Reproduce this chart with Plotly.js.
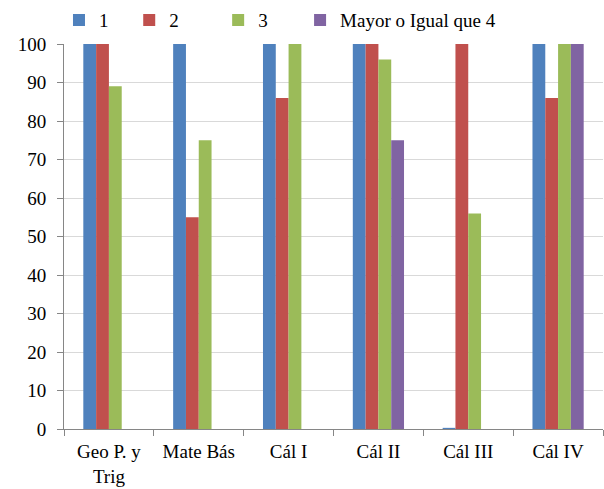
<!DOCTYPE html>
<html>
<head>
<meta charset="utf-8">
<script src="https://cdn.plot.ly/plotly-3.0.1.min.js"></script>
<style>html,body{margin:0;padding:0;background:#fff;}#chart{width:604px;height:489px;}</style>
</head>
<body>
<div id="chart"></div>
<script>
const categories = ["Geo P. y<br>Trig", "Mate Bás", "Cál I", "Cál II", "Cál III", "Cál IV"];
const seriesNames = ["1", "2", "3", "Mayor o Igual que 4"];
const s1 = [100, 100, 100, 100, 0.3, 100];
const s2 = [100, 55, 86, 100, 100, 86];
const s3 = [89, 75, 100, 96, 56, 100];
const s4 = [0, 0, 0, 75, 0, 100];
const yTicks = [0, 10, 20, 30, 40, 50, 60, 70, 80, 90, 100];

const colors = ["#4F81BD", "#C0504D", "#9BBB59", "#8064A2"];
const legendIds = ["legend", "legend2", "legend3", "legend4"];
const legendX = [-0.0093, 0.121, 0.286, 0.438];
const values = [s1, s2, s3, s4];

const traces = values.map((v, i) => ({
  type: "bar",
  x: categories,
  y: v,
  name: seriesNames[i],
  marker: {color: colors[i]},
  legend: legendIds[i]
}));

const font = {family: "Liberation Serif, Times New Roman, serif", size: 19, color: "#000"};
const layout = {
  width: 604, height: 489,
  margin: {l: 64, r: 1, t: 44, b: 60},
  paper_bgcolor: "#fff", plot_bgcolor: "#fff",
  font: font,
  barmode: "group",
  bargap: 0.43,
  bargroupgap: 0,
  xaxis: {
    type: "category",
    showline: true, linecolor: "#868686", linewidth: 1,
    ticks: "outside", tickson: "boundaries", ticklen: 6, tickcolor: "#868686",
    ticklabelstandoff: 5,
    showgrid: false, tickfont: font, fixedrange: true
  },
  yaxis: {
    range: [0, 100], tickvals: yTicks,
    showline: true, linecolor: "#868686", linewidth: 1,
    ticks: "outside", ticklen: 6, tickcolor: "#868686",
    ticklabelstandoff: 7,
    gridcolor: "#D9D9D9", gridwidth: 1, zeroline: false,
    tickfont: font, fixedrange: true
  },
  showlegend: true
};
legendIds.forEach((id, i) => {
  layout[id] = {
    x: legendX[i], y: 1.062, xanchor: "left", yanchor: "middle",
    xref: "paper", yref: "paper",
    orientation: "h", font: font, bgcolor: "rgba(0,0,0,0)",
    itemclick: false, itemdoubleclick: false
  };
});

Plotly.newPlot("chart", traces, layout, {displayModeBar: false, staticPlot: true});
</script>
</body>
</html>
